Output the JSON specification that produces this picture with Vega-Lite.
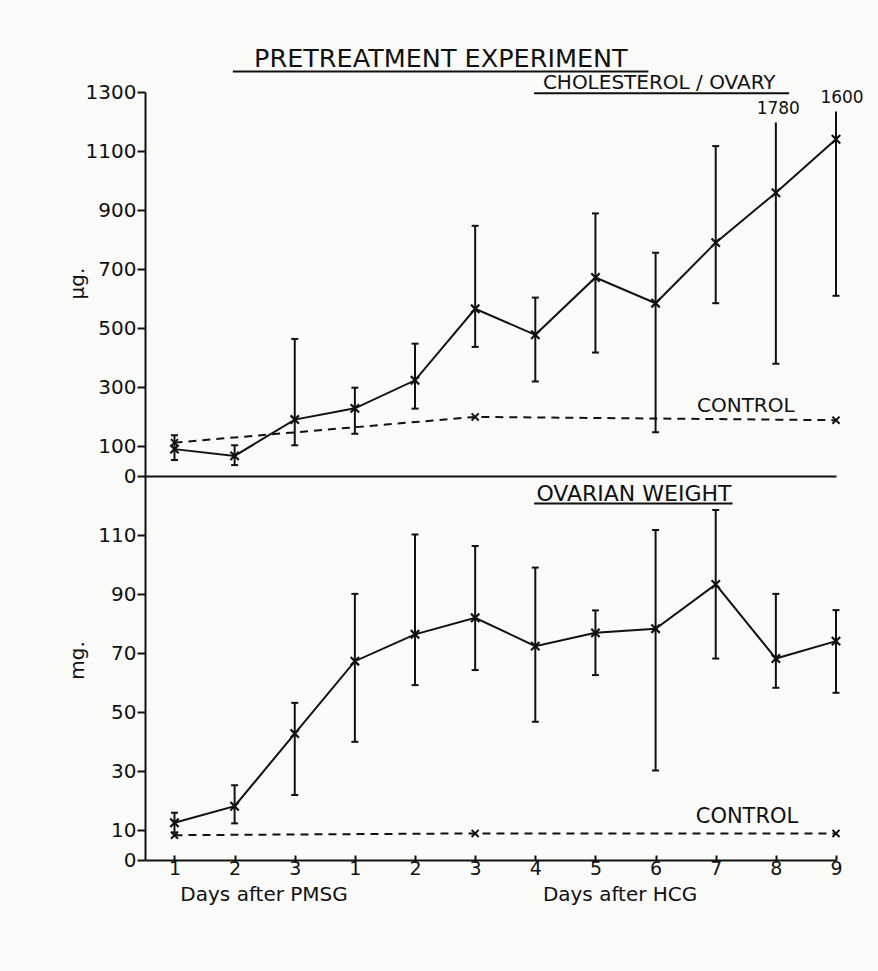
{
  "$schema": "https://vega.github.io/schema/vega-lite/v6.json",
  "background": "#fafaf9",
  "padding": {"left": 67, "top": 47, "right": 15, "bottom": 65},
  "spacing": 0,
  "bounds": "flush",
  "config": {
    "font": "DejaVu Sans",
    "view": {"stroke": null},
    "axis": {"grid": false, "domainColor": "#111", "domainWidth": 2, "tickColor": "#111", "tickWidth": 2, "labelColor": "#111", "titleColor": "#111", "labelFont": "DejaVu Sans", "titleFont": "DejaVu Sans"},
    "text": {"font": "DejaVu Sans", "color": "#111", "align": "center", "baseline": "middle"}
  },
  "datasets": {
    "chol": [
      {"pos": 1, "day": "PMSG 1", "value": 91, "lower": 54, "upper": 138, "truncated": false},
      {"pos": 2, "day": "PMSG 2", "value": 68, "lower": 37, "upper": 104, "truncated": false},
      {"pos": 3, "day": "PMSG 3", "value": 191, "lower": 104, "upper": 464, "truncated": false},
      {"pos": 4, "day": "HCG 1", "value": 229, "lower": 143, "upper": 299, "truncated": false},
      {"pos": 5, "day": "HCG 2", "value": 324, "lower": 228, "upper": 448, "truncated": false},
      {"pos": 6, "day": "HCG 3", "value": 566, "lower": 437, "upper": 847, "truncated": false},
      {"pos": 7, "day": "HCG 4", "value": 478, "lower": 320, "upper": 604, "truncated": false},
      {"pos": 8, "day": "HCG 5", "value": 672, "lower": 418, "upper": 889, "truncated": false},
      {"pos": 9, "day": "HCG 6", "value": 585, "lower": 148, "upper": 756, "truncated": false},
      {"pos": 10, "day": "HCG 7", "value": 790, "lower": 585, "upper": 1117, "truncated": false},
      {"pos": 11, "day": "HCG 8", "value": 959, "lower": 380, "upper": 1197, "truncated": true},
      {"pos": 12, "day": "HCG 9", "value": 1140, "lower": 610, "upper": 1234, "truncated": true}
    ],
    "cholCtrl": [
      {"pos": 1, "value": 113},
      {"pos": 6, "value": 200},
      {"pos": 12, "value": 189}
    ],
    "wt": [
      {"pos": 1, "day": "PMSG 1", "value": 12.6, "lower": 9.3, "upper": 16},
      {"pos": 2, "day": "PMSG 2", "value": 18.2, "lower": 12.4, "upper": 25.3},
      {"pos": 3, "day": "PMSG 3", "value": 42.8, "lower": 22, "upper": 53.2},
      {"pos": 4, "day": "HCG 1", "value": 67.3, "lower": 40, "upper": 90.1},
      {"pos": 5, "day": "HCG 2", "value": 76.4, "lower": 59.2, "upper": 110.2},
      {"pos": 6, "day": "HCG 3", "value": 82, "lower": 64.3, "upper": 106.3},
      {"pos": 7, "day": "HCG 4", "value": 72.4, "lower": 46.8, "upper": 99},
      {"pos": 8, "day": "HCG 5", "value": 76.9, "lower": 62.6, "upper": 84.5},
      {"pos": 9, "day": "HCG 6", "value": 78.3, "lower": 30.3, "upper": 111.7},
      {"pos": 10, "day": "HCG 7", "value": 93.3, "lower": 68.2, "upper": 118.5},
      {"pos": 11, "day": "HCG 8", "value": 68.2, "lower": 58.3, "upper": 90.1},
      {"pos": 12, "day": "HCG 9", "value": 74.1, "lower": 56.6, "upper": 84.6}
    ],
    "wtCtrl": [
      {"pos": 1, "value": 8.4},
      {"pos": 6, "value": 9.0},
      {"pos": 12, "value": 9.0}
    ]
  },
  "vconcat": [
    {
      "width": 691,
      "height": 384,
      "encoding": {
        "x": {"field": "pos", "type": "quantitative", "scale": {"domain": [0.51, 12], "nice": false, "zero": false},
              "axis": {"title": null, "labels": false, "ticks": false, "domain": true}},
        "y": {"field": "value", "type": "quantitative", "scale": {"domain": [0, 1300], "nice": false},
              "axis": {"title": "μg.", "values": [0, 100, 300, 500, 700, 900, 1100, 1300], "format": "d", "titleX": -68, "titleY": 191, "titleAngle": -90, "titleBaseline": "middle", "titleAlign": "center", "titleFontSize": 20, "titleFontWeight": "normal", "labelFontSize": 20, "tickSize": 8, "labelPadding": 1}}
      },
      "layer": [
        {"data": {"name": "cholCtrl"}, "mark": {"type": "line", "strokeDash": [8, 6], "strokeWidth": 2, "color": "#111"}},
        {"data": {"name": "cholCtrl"}, "mark": {"type": "point", "shape": "M -1 -1 L 1 1 M -1 1 L 1 -1", "filled": false, "strokeWidth": 2, "size": 50, "color": "#111", "opacity": 1}},
        {"data": {"name": "chol"}, "mark": {"type": "rule", "strokeWidth": 2, "color": "#111"},
         "encoding": {"y": {"field": "lower", "type": "quantitative"}, "y2": {"field": "upper"}}},
        {"data": {"name": "chol"}, "transform": [{"filter": "!datum.truncated"}], "mark": {"type": "tick", "orient": "horizontal", "size": 7, "thickness": 2, "color": "#111", "opacity": 1},
         "encoding": {"y": {"field": "upper", "type": "quantitative"}}},
        {"data": {"name": "chol"}, "mark": {"type": "tick", "orient": "horizontal", "size": 7, "thickness": 2, "color": "#111", "opacity": 1},
         "encoding": {"y": {"field": "lower", "type": "quantitative"}}},
        {"data": {"name": "chol"}, "mark": {"type": "line", "strokeWidth": 2, "color": "#111"}},
        {"data": {"name": "chol"}, "mark": {"type": "point", "shape": "M -1 -1 L 1 1 M -1 1 L 1 -1", "filled": false, "strokeWidth": 2.2, "size": 70, "color": "#111", "opacity": 1}},
        {"data": {"values": [{"pos": 5.43, "value": 1411, "label": "PRETREATMENT EXPERIMENT"}]},
         "mark": {"type": "text", "fontSize": 25.5},
         "encoding": {"text": {"field": "label"}}},
        {"data": {"values": [{"pos": 9.06, "value": 1330, "label": "CHOLESTEROL / OVARY"}, {"pos": 10.5, "value": 236, "label": "CONTROL"}]},
         "mark": {"type": "text", "fontSize": 20},
         "encoding": {"text": {"field": "label"}}},
        {"data": {"values": [{"pos": 11.04, "value": 1244, "label": "1780"}, {"pos": 12.1, "value": 1278, "label": "1600"}]},
         "mark": {"type": "text", "fontSize": 17},
         "encoding": {"text": {"field": "label"}}},
        {"data": {"values": [{"pos": 1.97, "pos2": 8.88, "value": 1369}, {"pos": 6.98, "pos2": 11.22, "value": 1296}]},
         "mark": {"type": "rule", "strokeWidth": 2, "color": "#111"},
         "encoding": {"x2": {"field": "pos2"}}}
      ]
    },
    {
      "width": 691,
      "height": 384,
      "encoding": {
        "x": {"field": "pos", "type": "quantitative", "scale": {"domain": [0.51, 12], "nice": false, "zero": false},
              "axis": {"title": null, "values": [1, 2, 3, 4, 5, 6, 7, 8, 9, 10, 11, 12], "labelExpr": "datum.value <= 3 ? datum.value : datum.value - 3", "labelFontSize": 19, "tickSize": -5, "labelPadding": 4, "labelFlush": false}},
        "y": {"field": "value", "type": "quantitative", "scale": {"domain": [0, 130], "nice": false},
              "axis": {"title": "mg.", "values": [0, 10, 30, 50, 70, 90, 110], "titleX": -68, "titleY": 184, "titleAngle": -90, "titleBaseline": "middle", "titleAlign": "center", "titleFontSize": 20, "titleFontWeight": "normal", "labelFontSize": 20, "tickSize": 8, "labelPadding": 1}}
      },
      "layer": [
        {"data": {"name": "wtCtrl"}, "mark": {"type": "line", "strokeDash": [8, 6], "strokeWidth": 2, "color": "#111"}},
        {"data": {"name": "wtCtrl"}, "mark": {"type": "point", "shape": "M -1 -1 L 1 1 M -1 1 L 1 -1", "filled": false, "strokeWidth": 2, "size": 50, "color": "#111", "opacity": 1}},
        {"data": {"name": "wt"}, "mark": {"type": "rule", "strokeWidth": 2, "color": "#111"},
         "encoding": {"y": {"field": "lower", "type": "quantitative"}, "y2": {"field": "upper"}}},
        {"data": {"name": "wt"}, "mark": {"type": "tick", "orient": "horizontal", "size": 7, "thickness": 2, "color": "#111", "opacity": 1},
         "encoding": {"y": {"field": "upper", "type": "quantitative"}}},
        {"data": {"name": "wt"}, "mark": {"type": "tick", "orient": "horizontal", "size": 7, "thickness": 2, "color": "#111", "opacity": 1},
         "encoding": {"y": {"field": "lower", "type": "quantitative"}}},
        {"data": {"name": "wt"}, "mark": {"type": "line", "strokeWidth": 2, "color": "#111"}},
        {"data": {"name": "wt"}, "mark": {"type": "point", "shape": "M -1 -1 L 1 1 M -1 1 L 1 -1", "filled": false, "strokeWidth": 2.2, "size": 70, "color": "#111", "opacity": 1}},
        {"data": {"values": [{"pos": 8.64, "value": 123.8, "label": "OVARIAN WEIGHT"}]},
         "mark": {"type": "text", "fontSize": 22},
         "encoding": {"text": {"field": "label"}}},
        {"data": {"values": [{"pos": 10.52, "value": 14.6, "label": "CONTROL"}]},
         "mark": {"type": "text", "fontSize": 21},
         "encoding": {"text": {"field": "label"}}},
        {"data": {"values": [{"pos": 2.49, "value": -11.9, "label": "Days after PMSG"}, {"pos": 8.41, "value": -11.9, "label": "Days after HCG"}]},
         "mark": {"type": "text", "fontSize": 20},
         "encoding": {"text": {"field": "label"}}},
        {"data": {"values": [{"pos": 6.98, "pos2": 10.28, "value": 120.7}]},
         "mark": {"type": "rule", "strokeWidth": 2, "color": "#111"},
         "encoding": {"x2": {"field": "pos2"}}}
      ]
    }
  ]
}
